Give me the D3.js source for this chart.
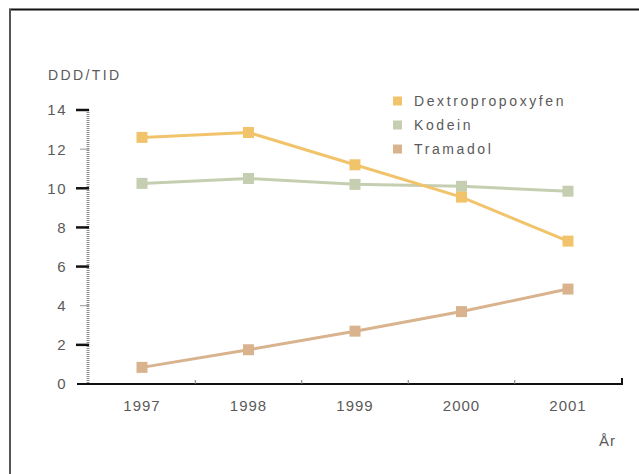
<!DOCTYPE html>
<html>
<head>
<meta charset="utf-8">
<script src="https://cdn.jsdelivr.net/npm/d3@7"></script>
<style>
  html, body { margin: 0; padding: 0; background: #fff; }
  svg { display: block; }
  text { font-family: "Liberation Sans", Arial, sans-serif; fill: #5a5a5a; }
</style>
</head>
<body>
<svg id="chart" width="639" height="474"></svg>
<script>
// Years on the x axis
const years = ["1997", "1998", "1999", "2000", "2001"];
// Consumption in DDD per 1000 inhabitants per day
const dextropropoxyfen = [12.6, 12.85, 11.2, 9.55, 7.3];
const kodein = [10.25, 10.5, 10.2, 10.1, 9.85];
const tramadol = [0.85, 1.75, 2.7, 3.7, 4.85];
const yTicks = [0, 2, 4, 6, 8, 10, 12, 14];
const seriesNames = ["Dextropropoxyfen", "Kodein", "Tramadol"];
const seriesColors = ["#f1c46c", "#c6ceb1", "#d9b38e"];

const series = [dextropropoxyfen, kodein, tramadol].map((values, i) => ({
  name: seriesNames[i], color: seriesColors[i], values
}));

const svg = d3.select("#chart");

// Frame: top and left rules
svg.append("line").attr("x1", 9).attr("x2", 639).attr("y1", 9.5).attr("y2", 9.5)
  .attr("stroke", "#111").attr("stroke-width", 2);
svg.append("line").attr("x1", 10).attr("x2", 10).attr("y1", 9).attr("y2", 474)
  .attr("stroke", "#555").attr("stroke-width", 2);

const x = d3.scalePoint().domain(years).range([142, 568]);
const y = d3.scaleLinear().domain([0, 14]).range([384, 110]);

// Y axis line (grey, dotted texture)
svg.append("line").attr("x1", 88).attr("x2", 88).attr("y1", y(14)).attr("y2", y(0))
  .attr("stroke", "#8a8a8a").attr("stroke-width", 3).attr("stroke-dasharray", "1,1");

// Y ticks and labels
const yAxis = svg.append("g");
yTicks.forEach(t => {
  const minor = (t === 12 || t === 4);
  if (t !== 0) {
    yAxis.append("line")
      .attr("x1", minor ? 80 : 76).attr("x2", 89)
      .attr("y1", y(t)).attr("y2", y(t))
      .attr("stroke", minor ? "#999" : "#111")
      .attr("stroke-width", minor ? 1 : 2.5);
  }
  yAxis.append("text")
    .attr("x", 67).attr("y", y(t)).attr("dy", "0.36em")
    .attr("text-anchor", "end")
    .attr("font-size", 15).attr("letter-spacing", 1.5)
    .text(t);
});

// X axis line with end stop
svg.append("line").attr("x1", 77).attr("x2", 623).attr("y1", y(0)).attr("y2", y(0))
  .attr("stroke", "#111").attr("stroke-width", 2);
svg.append("line").attr("x1", 622).attr("x2", 622).attr("y1", y(0) - 6).attr("y2", y(0))
  .attr("stroke", "#111").attr("stroke-width", 2);

// Small ticks between years
const step = x.step();
years.slice(0, -1).forEach(yr => {
  svg.append("line")
    .attr("x1", x(yr) + step / 2).attr("x2", x(yr) + step / 2)
    .attr("y1", y(0) - 4).attr("y2", y(0))
    .attr("stroke", "#777").attr("stroke-width", 1);
});

// Year labels
years.forEach(yr => {
  svg.append("text")
    .attr("x", x(yr)).attr("y", 406).attr("dy", "0.36em")
    .attr("text-anchor", "middle")
    .attr("font-size", 15).attr("letter-spacing", 1)
    .text(yr);
});

// Axis titles
svg.append("text").attr("x", 48).attr("y", 80)
  .attr("font-size", 14).attr("letter-spacing", 2.4).text("DDD/TID");
svg.append("text").attr("x", 599).attr("y", 446)
  .attr("font-size", 15).attr("letter-spacing", 1).text("År");

// Series lines and square markers
const line = d3.line().x((d, i) => x(years[i])).y(d => y(d));
const markerSize = 11;
series.slice().reverse().forEach(s => {
  svg.append("path").datum(s.values)
    .attr("d", line)
    .attr("fill", "none")
    .attr("stroke", s.color)
    .attr("stroke-width", 3);
  svg.append("g").selectAll("rect").data(s.values).join("rect")
    .attr("x", (d, i) => x(years[i]) - markerSize / 2)
    .attr("y", d => y(d) - markerSize / 2)
    .attr("width", markerSize).attr("height", markerSize)
    .attr("fill", s.color);
});

// Legend
const legend = svg.append("g");
series.forEach((s, i) => {
  const ly = 101 + i * 24;
  legend.append("rect")
    .attr("x", 393).attr("y", ly - 4.5).attr("width", 9).attr("height", 9)
    .attr("fill", s.color);
  legend.append("text")
    .attr("x", 414).attr("y", ly).attr("dy", "0.36em")
    .attr("font-size", 14).attr("letter-spacing", 2.6)
    .text(s.name);
});
</script>
</body>
</html>
